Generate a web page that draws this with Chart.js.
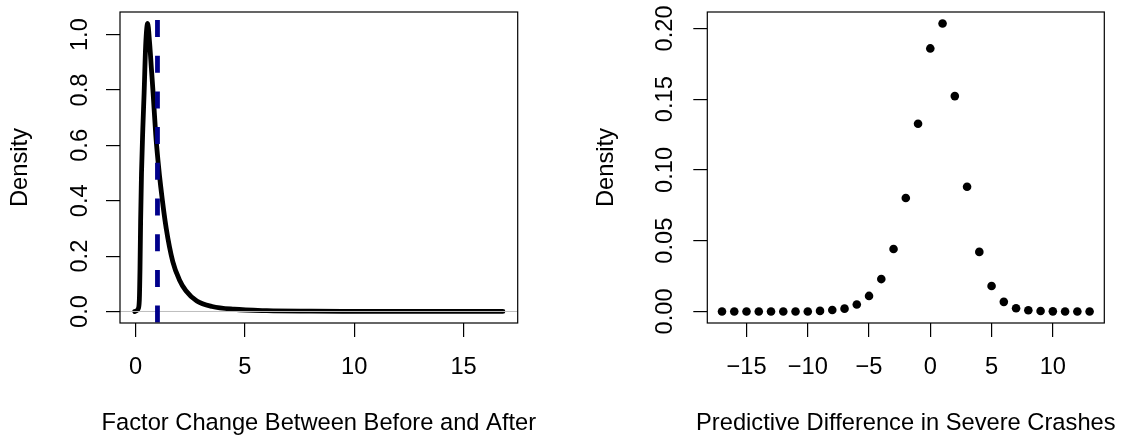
<!DOCTYPE html>
<html>
<head>
<meta charset="utf-8">
<script src="https://cdn.jsdelivr.net/npm/chart.js@4.4.1/dist/chart.umd.min.js"></script>
<style>
  html, body { margin: 0; padding: 0; background: #fff; }
  #wrap { position: relative; width: 1122px; height: 439px; overflow: hidden; }
  canvas { position: absolute; top: 0; }
  #factorChart { left: 0; }
  #diffChart { left: 561px; }
</style>
</head>
<body>
<div id="wrap">
  <canvas id="factorChart" width="561" height="439"></canvas>
  <canvas id="diffChart" width="561" height="439"></canvas>
</div>
<script>
// ===== LEFT PANEL: density of the factor change =====
const factorX = [-0.04, 0.05, 0.12, 0.17, 0.20, 0.23, 0.27, 0.33, 0.39, 0.46,
                 0.55, 0.64, 0.72, 0.80, 0.92, 1.03, 1.15, 1.4, 1.7, 2.0,
                 2.3, 2.8, 3.5, 4.5, 6, 8, 10, 12, 14, 16.8];
const factorDens = [0, 0.003, 0.01, 0.04, 0.15, 0.33, 0.5, 0.66, 0.79, 0.96,
                    1.04, 0.97, 0.88, 0.79, 0.64, 0.54, 0.45, 0.30, 0.18, 0.115,
                    0.075, 0.038, 0.018, 0.008, 0.003, 0.0012, 0.0006, 0.0003, 0.0002, 0.0001];
const factorRef = 1;
const factorXTicks = [0, 5, 10, 15];
const factorYTicks = [0, 0.2, 0.4, 0.6, 0.8, 1.0];

// ===== RIGHT PANEL: predictive difference in severe crashes =====
const diffX = [-17, -16, -15, -14, -13, -12, -11, -10, -9, -8, -7, -6, -5, -4, -3, -2, -1,
               0, 1, 2, 3, 4, 5, 6, 7, 8, 9, 10, 11, 12, 13];
const diffDens = [0, 0, 0, 0, 0, 0, 0, 0, 0.0004, 0.001, 0.002, 0.0049, 0.011, 0.0229, 0.0442, 0.0802, 0.1327,
                  0.1859, 0.2035, 0.1522, 0.0881, 0.0421, 0.018, 0.0068, 0.0023, 0.0009, 0.0003, 0.0001, 0, 0, 0];
const diffXTicks = [-15, -10, -5, 0, 5, 10];
const diffYTicks = [0, 0.05, 0.10, 0.15, 0.20];

const FONT = '"Liberation Sans", Arial, Helvetica, sans-serif';
Chart.defaults.font.family = FONT;
Chart.defaults.font.size = 23.7;
Chart.defaults.color = "#000";

// R pads each axis range by 4% on both sides
function rRange(vals) {
  const lo = Math.min(...vals), hi = Math.max(...vals);
  const pad = (hi - lo) * 0.04;
  return { min: lo - pad, max: hi + pad };
}

const fixedTicks = list => scale => { scale.ticks = list.map(v => ({ value: v })); };
const minusFmt = v => (v < 0 ? "\u2212" + Math.abs(v) : String(v));

// box round the plot region, abline-style reference lines, x title
// (the x title is wider than the plot, so Chart.js would squeeze it)
const rBox = {
  id: "rBox",
  afterDatasetsDraw(chart, args, opts) {
    const { ctx, chartArea: a, scales } = chart;
    ctx.save();
    ctx.beginPath();
    ctx.rect(a.left, a.top, a.right - a.left, a.bottom - a.top);
    ctx.clip();
    if (opts.zeroLine) {
      const y = scales.y.getPixelForValue(0);
      ctx.strokeStyle = "#bebebe";
      ctx.lineWidth = 1;
      ctx.beginPath();
      ctx.moveTo(a.left, y);
      ctx.lineTo(a.right, y);
      ctx.stroke();
    }
    if (opts.vLine !== undefined) {
      const x = scales.x.getPixelForValue(opts.vLine);
      ctx.strokeStyle = "#00008b";
      ctx.lineWidth = 4.8;
      ctx.setLineDash([17, 18.7]);
      ctx.lineDashOffset = -8;
      ctx.beginPath();
      ctx.moveTo(x, a.top);
      ctx.lineTo(x, a.bottom);
      ctx.stroke();
    }
    ctx.restore();

    ctx.save();
    ctx.strokeStyle = "#000";
    ctx.lineWidth = 1.2;
    ctx.strokeRect(a.left, a.top, a.right - a.left, a.bottom - a.top);
    if (opts.xTitle) {
      ctx.fillStyle = "#000";
      ctx.font = "23.7px " + FONT;
      ctx.textAlign = "center";
      ctx.textBaseline = "alphabetic";
      ctx.fillText(opts.xTitle, (a.left + a.right) / 2, chart.height - 9);
    }
    ctx.restore();
  }
};

function makeScales(o) {
  const grid = { drawOnChartArea: false, drawTicks: true, tickLength: 14, color: "#000", lineWidth: 1.2 };
  return {
    x: {
      type: "linear", position: "bottom",
      min: o.xr.min, max: o.xr.max,
      afterBuildTicks: fixedTicks(o.xTicks),
      afterFit: s => { s.height = o.xHeight; s.paddingLeft = 0; s.paddingRight = 0; },
      grid: grid,
      border: { display: false },
      ticks: { padding: 16, autoSkip: false, minRotation: 0, maxRotation: 0, callback: o.xFmt }
    },
    y: {
      type: "linear", position: "left",
      min: o.yr.min, max: o.yr.max,
      afterBuildTicks: fixedTicks(o.yTicks),
      afterFit: s => { s.width = o.yWidth; s.paddingTop = 0; s.paddingBottom = 0; },
      grid: grid,
      border: { display: false },
      ticks: { padding: o.yPad, autoSkip: false, minRotation: 90, maxRotation: 90,
               crossAlign: "center", callback: o.yFmt },
      title: { display: true, text: "Density", padding: { top: o.yTitlePad, bottom: 0 } }
    }
  };
}

new Chart(document.getElementById("factorChart"), {
  type: "scatter",
  data: {
    datasets: [{
      data: factorX.map((x, i) => ({ x: x, y: factorDens[i] })),
      showLine: true,
      pointRadius: 0,
      borderColor: "#000",
      borderWidth: 4.8,
      borderJoinStyle: "round",
      borderCapStyle: "round",
      cubicInterpolationMode: "monotone"
    }]
  },
  options: {
    responsive: false,
    devicePixelRatio: 1,
    animation: false,
    events: [],
    layout: { padding: { left: 0, top: 12, right: 43.3, bottom: 0 } },
    plugins: {
      legend: { display: false },
      tooltip: { enabled: false },
      rBox: { zeroLine: true, vLine: factorRef, xTitle: "Factor Change Between Before and After" }
    },
    scales: makeScales({
      xr: rRange(factorX), yr: rRange([0, ...factorDens]),
      xTicks: factorXTicks, yTicks: factorYTicks,
      xFmt: v => String(v), yFmt: v => v.toFixed(1),
      xHeight: 116, yWidth: 120, yPad: 9.5, yTitlePad: 6
    })
  },
  plugins: [rBox]
});

new Chart(document.getElementById("diffChart"), {
  type: "scatter",
  data: {
    datasets: [{
      data: diffX.map((x, i) => ({ x: x, y: diffDens[i] })),
      pointRadius: 4.3,
      pointBackgroundColor: "#000",
      pointBorderWidth: 0,
      showLine: false
    }]
  },
  options: {
    responsive: false,
    devicePixelRatio: 1,
    animation: false,
    events: [],
    layout: { padding: { left: 0, top: 12, right: 17.7, bottom: 0 } },
    plugins: {
      legend: { display: false },
      tooltip: { enabled: false },
      rBox: { xTitle: "Predictive Difference in Severe Crashes" }
    },
    scales: makeScales({
      xr: rRange(diffX), yr: rRange(diffDens),
      xTicks: diffXTicks, yTicks: diffYTicks,
      xFmt: minusFmt, yFmt: v => v.toFixed(2),
      xHeight: 116, yWidth: 146.3, yPad: 4.6, yTitlePad: 31
    })
  },
  plugins: [rBox]
});
</script>
</body>
</html>
